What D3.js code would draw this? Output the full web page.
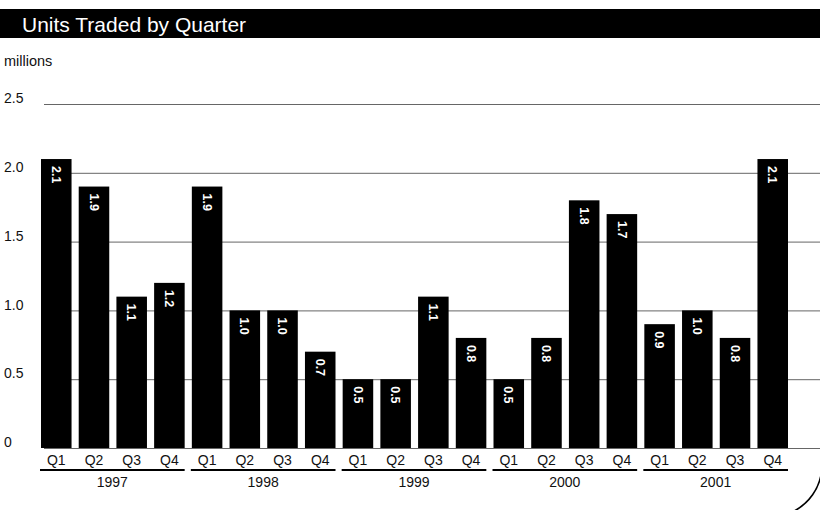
<!DOCTYPE html>
<html>
<head>
<meta charset="utf-8">
<script src="https://cdn.jsdelivr.net/npm/d3@7/dist/d3.min.js"></script>
<style>
  html, body { margin: 0; padding: 0; background: #fff; }
  svg { display: block; font-family: "Liberation Sans", Arial, Helvetica, sans-serif; }
</style>
</head>
<body>
<svg id="chart" width="820" height="510"></svg>
<script>
// Units traded per quarter, in millions
const years = ["1997", "1998", "1999", "2000", "2001"];
const quarters = ["Q1", "Q2", "Q3", "Q4"];
const values = [
  2.1, 1.9, 1.1, 1.2,   // 1997
  1.9, 1.0, 1.0, 0.7,   // 1998
  0.5, 0.5, 1.1, 0.8,   // 1999
  0.5, 0.8, 1.8, 1.7,   // 2000
  0.9, 1.0, 0.8, 2.1    // 2001
];
const yTicks = [0, 0.5, 1.0, 1.5, 2.0, 2.5];
const yTickLabels = ["0", "0.5", "1.0", "1.5", "2.0", "2.5"];

const rows = values.map((v, i) => ({
  i,
  year: years[Math.floor(i / quarters.length)],
  quarter: quarters[i % quarters.length],
  value: v
}));

const W = 820, H = 510;
const svg = d3.select("#chart");

// Header band
svg.append("rect").attr("x", 0).attr("y", 9).attr("width", W).attr("height", 29).attr("fill", "#000");
svg.append("text")
  .attr("x", 22).attr("y", 32)
  .attr("fill", "#fff")
  .attr("font-size", 21)
  .text("Units Traded by Quarter");

svg.append("text")
  .attr("x", 4).attr("y", 66)
  .attr("font-size", 14.5)
  .attr("fill", "#111")
  .text("millions");

// Scales
const x = d3.scaleBand()
  .domain(rows.map(d => d.i))
  .range([41, 788])
  .paddingInner(0.19)
  .paddingOuter(0);

const y = d3.scaleLinear().domain([0, 2.5]).range([448, 104]);

// Gridlines and value labels
const gridLeft = 44;
const yAxis = d3.axisRight(y)
  .tickValues(yTicks)
  .tickFormat((d, i) => yTickLabels[i])
  .tickSize(W - gridLeft);

const gy = svg.append("g")
  .attr("transform", `translate(${gridLeft},0)`)
  .call(yAxis);
gy.select(".domain").remove();
gy.selectAll(".tick line")
  .attr("stroke", "#555")
  .attr("stroke-width", 0.9);
gy.selectAll(".tick text")
  .attr("x", 4 - gridLeft)
  .attr("dy", "-0.1em")
  .attr("text-anchor", "start")
  .attr("font-size", 14)
  .attr("fill", "#111");

// Bars
svg.append("g")
  .selectAll("rect")
  .data(rows)
  .join("rect")
  .attr("x", d => x(d.i))
  .attr("y", d => y(d.value))
  .attr("width", x.bandwidth())
  .attr("height", d => y(0) - y(d.value))
  .attr("fill", "#000");

// Rotated value labels inside the bars
svg.append("g")
  .selectAll("text")
  .data(rows)
  .join("text")
  .attr("transform", d => `translate(${x(d.i) + x.bandwidth() / 2},${y(d.value) + 7}) rotate(90)`)
  .attr("dy", "0.35em")
  .attr("text-anchor", "start")
  .attr("font-size", 12.5)
  .attr("font-weight", "bold")
  .attr("fill", "#fff")
  .text(d => d.value.toFixed(1));

// Quarter labels
const xAxis = d3.axisBottom(x)
  .tickSize(0)
  .tickFormat(i => rows[i].quarter);
const gx = svg.append("g")
  .attr("transform", `translate(0,${y(0)})`)
  .call(xAxis);
gx.select(".domain").remove();
gx.selectAll(".tick text")
  .attr("y", 7)
  .attr("dy", "0.71em")
  .attr("font-size", 14)
  .attr("font-family", "\"Liberation Sans\", Arial, sans-serif")
  .attr("fill", "#111");

// Year underlines and labels
const groups = years.map((yr, k) => {
  const first = k * quarters.length;
  const last = first + quarters.length - 1;
  return { yr, x0: x(first) - 1, x1: x(last) + x.bandwidth() };
});
const gYears = svg.append("g");
gYears.selectAll("line")
  .data(groups)
  .join("line")
  .attr("x1", d => d.x0).attr("x2", d => d.x1)
  .attr("y1", 470).attr("y2", 470)
  .attr("stroke", "#000")
  .attr("stroke-width", 1.8);
gYears.selectAll("text")
  .data(groups)
  .join("text")
  .attr("x", d => (d.x0 + d.x1) / 2)
  .attr("y", 487)
  .attr("text-anchor", "middle")
  .attr("font-size", 14)
  .attr("fill", "#111")
  .text(d => d.yr);

// Rounded frame corner at bottom right
const deg = Math.PI / 180;
const corner = d3.path();
corner.arc(770, 465, 52, 62 * deg, 8 * deg, true);
svg.append("path")
  .attr("d", corner.toString())
  .attr("fill", "none")
  .attr("stroke", "#000")
  .attr("stroke-width", 1.6);
</script>
</body>
</html>
